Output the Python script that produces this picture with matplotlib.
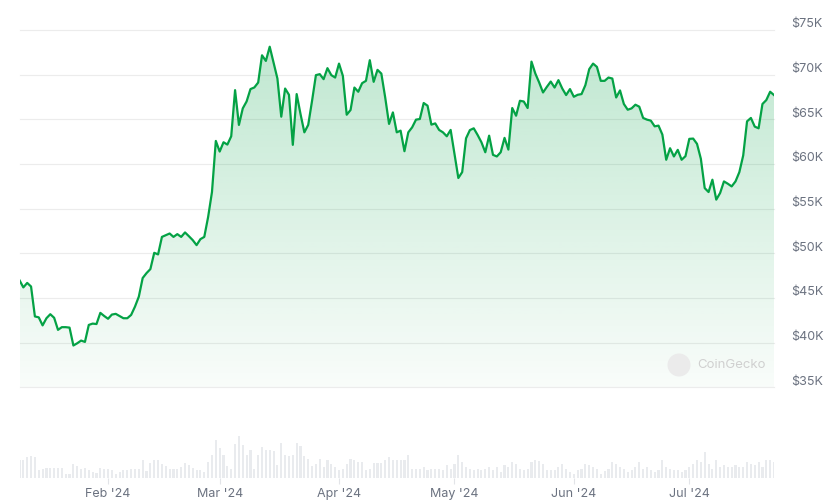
import numpy as np
import pandas as pd
import matplotlib
matplotlib.use('Agg')
import matplotlib.pyplot as plt
import matplotlib.dates as mdates
from matplotlib.patches import Polygon, Circle
from matplotlib.colors import to_rgb

plt.rcParams['font.family'] = ['Inter', 'DejaVu Sans']

# daily BTC price, Jan 9 2024 .. Jul 23 2024
dates = pd.date_range('2024-01-09', '2024-07-23', freq='D')

price_jan = [47000, 46200, 46700, 46300, 42950, 42850, 41950, 42750, 43200, 42800,
             41450, 41750, 41750, 41700, 39700, 39950, 40250, 40100, 42000, 42150,
             42100, 43350, 43000]
price_feb = [42690, 43160, 43240, 43000, 42750, 42750, 43120, 44050, 45170, 47250,
             47800, 48250, 50070, 49890, 51850, 52040, 52230, 51850, 52160, 51850,
             52350, 51930, 51490, 50930, 51600, 51850, 54080, 56870, 62590]
price_mar = [61400, 62440, 62180, 63110, 68270, 64380, 66230, 67010, 68390, 68570,
             69120, 72170, 71540, 73130, 71350, 69570, 65300, 68450, 67750, 62150,
             67830, 65600, 63550, 64380, 67080, 69950, 70060, 69500, 70730, 69950,
             69680]
price_apr = [71240, 69870, 65520, 66050, 68560, 68090, 69050, 69310, 71620, 69200,
             70540, 70120, 67450, 64490, 65780, 63550, 63740, 61440, 63550, 64110,
             64970, 65040, 66830, 66530, 64410, 64550, 63820, 63550, 63110, 63820]
price_may = [61150, 58440, 59100, 62880, 63800, 64000, 63260, 62440, 61320, 63180,
             61030, 60850, 61320, 62930, 61620, 66270, 65410, 67080, 67000, 66270,
             71460, 70130, 69120, 68010, 68640, 69230, 68560, 69390, 68450, 67720,
             68390]
price_jun = [67530, 67750, 67830, 68830, 70620, 71240, 70870, 69310, 69310, 69680,
             69570, 67450, 68240, 66720, 66080, 66230, 66640, 66420, 65160, 64970,
             64860, 64220, 64300, 63300, 60480, 61770, 60850, 61590, 60480, 60880]
price_jul = [62820, 62850, 62260, 60590, 57310, 56870, 58250, 56020, 56760, 58060,
             57800, 57500, 58060, 59100, 60960, 64780, 65160, 64190, 64000, 66720,
             67160, 68090, 67720]
price = price_jan + price_feb + price_mar + price_apr + price_may + price_jun + price_jul

# daily volume (billion USD, rough)
volume = [18, 18, 21, 22, 21, 8, 9, 10, 10, 10, 10, 10, 4, 4, 14, 12, 9, 10, 8, 6, 5, 10, 9,
          9, 8, 4, 6, 8, 8, 9, 9, 9, 18, 7, 15, 18, 18, 14, 12, 9, 9, 9, 11, 15, 13, 10, 8, 8, 6, 16, 23, 38,
          30, 23, 12, 9, 34, 42, 33, 23, 28, 9, 23, 31, 28, 28, 27, 13, 35, 23, 22, 23, 35, 32, 22, 19, 12,
          14, 19, 11, 18, 14, 11,
          8, 9, 14, 19, 18, 16, 16, 8, 9, 15, 15, 15, 18, 21, 18, 18, 18, 18,
          23, 9, 9, 9, 11, 8, 9, 9, 9, 8, 13, 9, 14, 23, 16, 11, 9, 8, 9, 8,
          9, 11, 8, 11, 6, 13, 11, 16, 14, 9, 8, 9, 16, 18, 17, 14, 8, 8, 8, 11,
          14, 9, 6, 4, 8, 9, 14, 13, 11, 9, 4, 7, 9, 16, 14, 11, 9, 6, 8, 11,
          16, 9, 11, 8, 6, 8, 18, 11, 9, 8, 8, 6, 8, 11, 14, 18, 16, 26, 14, 9,
          18, 11, 13, 11, 11, 13, 11, 11, 16, 14, 13, 16, 11, 18, 18, 16]

y_ticks = [35000, 40000, 45000, 50000, 55000, 60000, 65000, 70000, 75000]
y_labels = ['$35K', '$40K', '$45K', '$50K', '$55K', '$60K', '$65K', '$70K', '$75K']
month_ticks = pd.to_datetime(['2024-02-01', '2024-03-01', '2024-04-01',
                              '2024-05-01', '2024-06-01', '2024-07-01'])
month_labels = ["Feb '24", "Mar '24", "Apr '24", "May '24", "Jun '24", "Jul '24"]

line_green = '#04a245'
text_gray = '#6b7280'
grid_gray = '#ececec'

W, H = 837, 504
fig = plt.figure(figsize=(W / 100, H / 100), dpi=100)


def box(l, t, r, b):
    return [l / W, 1 - b / H, (r - l) / W, (b - t) / H]


ax = fig.add_axes(box(19.5, 30, 774, 387.5))
axv = fig.add_axes(box(19.5, 420, 774, 478))

xn = mdates.date2num(dates)

# gradient fill under the price line
rgb = to_rgb(line_green)
ys = np.linspace(35000, 75000, 400)
alpha = np.clip(0.25 * (ys - 30500) / (73000 - 30500), 0, 1)
grad = np.zeros((len(ys), 1, 4))
grad[:, 0, :3] = rgb
grad[:, 0, 3] = alpha
im = ax.imshow(grad, extent=[xn[0], xn[-1], 35000, 75000], origin='lower',
               aspect='auto', interpolation='bilinear', zorder=1)
verts = np.column_stack([np.r_[xn[0], xn, xn[-1]], np.r_[35000, price, 35000]])
poly = Polygon(verts, closed=True, facecolor='none', edgecolor='none')
ax.add_patch(poly)
im.set_clip_path(poly)

ax.plot(xn, price, color=line_green, lw=1.6, zorder=3, solid_joinstyle='round')

for v, lab in zip(y_ticks, y_labels):
    ax.axhline(v, color=grid_gray, lw=0.8, zorder=0, clip_on=False)
    ax.annotate(lab, xy=(1, v), xycoords=('axes fraction', 'data'),
                xytext=(12.5, 4.2), textcoords='offset points',
                ha='left', va='center', fontsize=9, color=text_gray)

ax.set_xlim(xn[0], xn[-1])
ax.set_ylim(35000, 75000)
ax.set_xticks([])
ax.set_yticks([])
for s in ax.spines.values():
    s.set_visible(False)
ax.patch.set_alpha(0)

# watermark (circle placed in inches so it stays round)
fig.add_artist(Circle((6.79, (H - 365) / 100), 0.115, transform=fig.dpi_scale_trans,
                      facecolor='#ebebeb', edgecolor='none'))
fig.text(697 / W, 1 - 365 / H, 'CoinGecko', fontsize=9.5, color='#d0d0d0',
         ha='left', va='center')

# volume bars
axv.bar(xn, volume, width=0.55, color='#e9ebee', zorder=1)
axv.set_xlim(xn[0], xn[-1])
axv.set_ylim(0, 58)
axv.set_yticks([])
axv.set_xticks(mdates.date2num(month_ticks))
axv.set_xticklabels(month_labels)
axv.tick_params(axis='x', length=4, width=0.8, color='#e2e4e8', labelsize=9,
                labelcolor=text_gray, pad=3)
for s in axv.spines.values():
    s.set_visible(False)
axv.patch.set_alpha(0)

fig.savefig('out.png', dpi=100, facecolor='white')
